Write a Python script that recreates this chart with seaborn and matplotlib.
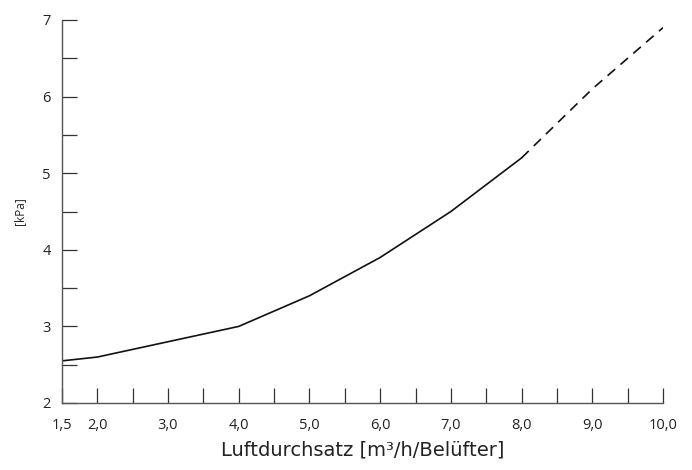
import matplotlib
matplotlib.use("Agg")
import matplotlib.pyplot as plt
import seaborn as sns
import pandas as pd
from matplotlib.ticker import MultipleLocator, FixedLocator

x_solid = [1.5, 2.0, 3.0, 4.0, 5.0, 6.0, 7.0, 8.0]
y_solid = [2.55, 2.6, 2.8, 3.0, 3.4, 3.9, 4.5, 5.2]
x_dash = [8.0, 9.0, 10.0]
y_dash = [5.2, 6.1, 6.9]
x_ticks = [1.5, 2, 3, 4, 5, 6, 7, 8, 9, 10]
x_ticklabels = ["1,5", "2,0", "3,0", "4,0", "5,0", "6,0", "7,0", "8,0", "9,0", "10,0"]
y_ticks = [2, 3, 4, 5, 6, 7]
y_ticklabels = ["2", "3", "4", "5", "6", "7"]
x_label = "Luftdurchsatz [m³/h/Belüfter]"
y_label = "[kPa]"

sns.set_theme(style="ticks")
plt.rcParams['font.family'] = ['Open Sans', 'DejaVu Sans']

fig = plt.figure(figsize=(6.92, 4.70), dpi=100)
ax = fig.add_axes([62/692, 1-403/470, (663-62)/692, (403-20)/470])

df_s = pd.DataFrame({"x": x_solid, "y": y_solid})
df_d = pd.DataFrame({"x": x_dash, "y": y_dash})
sns.lineplot(data=df_s, x="x", y="y", ax=ax, color="#111111", linewidth=1.2)
sns.lineplot(data=df_d, x="x", y="y", ax=ax, color="#111111", linewidth=1.2,
             dashes=False)
ax.lines[-1].set_dashes((6, 4.2))

ax.set_xlim(1.5, 10)
ax.set_ylim(2, 7)
ax.set_xticks(x_ticks)
ax.set_xticklabels(x_ticklabels)
ax.xaxis.set_minor_locator(FixedLocator([2.5, 3.5, 4.5, 5.5, 6.5, 7.5, 8.5, 9.5]))
ax.set_yticks(y_ticks)
ax.set_yticklabels(y_ticklabels)
ax.yaxis.set_minor_locator(MultipleLocator(0.5))

for s in ["top", "right"]:
    ax.spines[s].set_visible(False)
for s in ["left", "bottom"]:
    ax.spines[s].set_color("#555555")
    ax.spines[s].set_linewidth(1.0)

ax.tick_params(which="both", direction="in", length=11, width=0.9, color="#333333")
ax.tick_params(axis="both", which="major", labelsize=10.5, labelcolor="#222222")
ax.tick_params(axis="x", which="major", pad=11)
ax.tick_params(axis="y", which="major", pad=8)

ax.set_xlabel(x_label, fontsize=14, color="#222222", labelpad=5,
              family=["DejaVu Sans"])
ax.set_ylabel(y_label, fontsize=8.5, color="#222222", labelpad=12)

fig.savefig("out.png", dpi=100)
